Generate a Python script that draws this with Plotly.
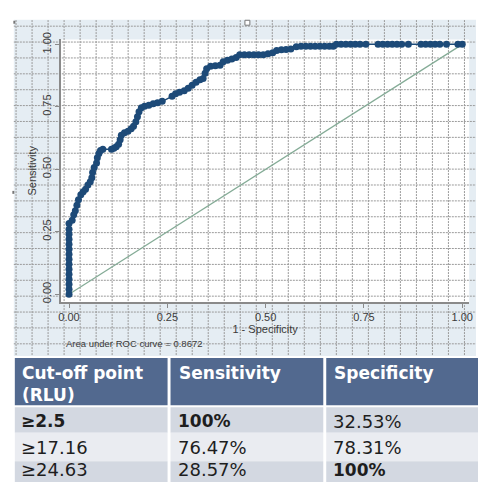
import plotly.graph_objects as go

# ---------------- data ----------------
one_minus_specificity = [
    0, 0, 0, 0, 0, 0, 0, 0, 0, 0, 0, 0, 0, 0, 0,
    0.008, 0.012, 0.016, 0.020, 0.024, 0.030, 0.036, 0.042, 0.048, 0.054,
    0.058, 0.060, 0.064, 0.070, 0.072, 0.076, 0.080, 0.086, 0.108, 0.114,
    0.120, 0.126, 0.130, 0.133, 0.141, 0.150, 0.158, 0.164, 0.170, 0.174,
    0.178, 0.184, 0.192, 0.203, 0.214, 0.225, 0.237, 0.262, 0.271, 0.281,
    0.293, 0.303, 0.313, 0.323, 0.333, 0.341, 0.346, 0.350, 0.360, 0.372,
    0.384, 0.392, 0.403, 0.414, 0.425, 0.434, 0.446, 0.458, 0.470, 0.482,
    0.494, 0.506, 0.518, 0.528, 0.540, 0.552, 0.564, 0.578, 0.590, 0.602,
    0.614, 0.626, 0.638, 0.650, 0.662, 0.672, 0.680, 0.692, 0.704, 0.716,
    0.728, 0.740, 0.755, 0.786, 0.798, 0.810, 0.822, 0.834, 0.846, 0.863,
    0.895, 0.907, 0.919, 0.931, 0.943, 0.960, 0.989, 1.0,
]
sensitivity = [
    0.0, 0.02, 0.04, 0.06, 0.08, 0.10, 0.12, 0.14, 0.16, 0.18, 0.20, 0.22, 0.24, 0.26, 0.283,
    0.296, 0.318, 0.334, 0.356, 0.378, 0.398, 0.410, 0.420, 0.437, 0.450,
    0.466, 0.487, 0.507, 0.525, 0.546, 0.563, 0.575, 0.580, 0.580, 0.584,
    0.590, 0.600, 0.618, 0.636, 0.646, 0.652, 0.662, 0.672, 0.690, 0.710,
    0.730, 0.746, 0.752, 0.756, 0.762, 0.766, 0.772, 0.792, 0.802, 0.808,
    0.814, 0.824, 0.836, 0.848, 0.858, 0.863, 0.884, 0.902, 0.912, 0.914,
    0.916, 0.930, 0.936, 0.941, 0.947, 0.958, 0.958, 0.958, 0.958, 0.958,
    0.958, 0.962, 0.966, 0.975, 0.978, 0.979, 0.981, 0.990, 0.992, 0.992,
    0.992, 0.992, 0.992, 0.992, 0.992, 0.992, 1.0, 1.0, 1.0, 1.0,
    1.0, 1.0, 1.0, 1.0, 1.0, 1.0, 1.0, 1.0, 1.0, 1.0,
    1.0, 1.0, 1.0, 1.0, 1.0, 1.0, 1.0, 1.0,
]
reference_x = [0, 1]
reference_y = [0, 1]

tick_values = [0, 0.25, 0.5, 0.75, 1.0]
tick_labels = ["0.00", "0.25", "0.50", "0.75", "1.00"]
x_title = "1 - Specificity"
y_title = "Sensitivity"
auc_note = "Area under ROC curve = 0.8672"

header_labels = ["Cut-off point", "Sensitivity", "Specificity"]
header_sub = "(RLU)"
cutoffs = ["≥2.5", "≥17.16", "≥24.63"]
sens_values = ["100%", "76.47%", "28.57%"]
spec_values = ["32.53%", "78.31%", "100%"]
bold_cells = {(0, 0), (0, 1), (2, 2)}

# ---------------- layout helpers ----------------
W = H = 482


def px(x):
    return x / W


def py(y):
    return 1 - y / H


CURVE = "#1d4a78"
DIAG = "#84ab96"
AXIS = "#8a8a8a"
TXT = "#3a3a3a"
SLIDE_BG = "#e5edf3"
GRIDC = "#9a9a9a"
HEAD = "#52698f"
ROW_A = "#d3d8e1"
ROW_B = "#eaecf1"

fig = go.Figure()

fig.add_trace(go.Scatter(
    x=reference_x, y=reference_y, mode="lines",
    line=dict(color=DIAG, width=1.2), hoverinfo="skip", showlegend=False,
))
fig.add_trace(go.Scatter(
    x=one_minus_specificity, y=sensitivity, mode="lines+markers",
    line=dict(color=CURVE, width=1.5),
    marker=dict(color=CURVE, size=7, line=dict(width=0)),
    showlegend=False,
))

shapes = []
# slide / graph region background
shapes.append(dict(type="rect", xref="paper", yref="paper", layer="below",
                   x0=px(11), x1=px(480), y0=py(357), y1=py(13),
                   fillcolor=SLIDE_BG, line=dict(width=0)))
# plot region (white)
shapes.append(dict(type="rect", xref="paper", yref="paper", layer="below",
                   x0=px(59), x1=px(473), y0=py(300), y1=py(33),
                   fillcolor="white", line=dict(width=0)))
# slide grid lines
for k in range(29):
    gx = 13.25 + 16.25 * k
    shapes.append(dict(type="line", xref="paper", yref="paper", layer="below",
                       x0=px(gx), x1=px(gx), y0=py(357), y1=py(13),
                       line=dict(color=GRIDC, width=1, dash="2px,1px")))
for k in range(21):
    gy = 19.5 + 16.15 * k
    shapes.append(dict(type="line", xref="paper", yref="paper", layer="below",
                       x0=px(11), x1=px(480), y0=py(gy), y1=py(gy),
                       line=dict(color=GRIDC, width=1, dash="2px,1px")))
# selection handles of the slide object
shapes.append(dict(type="rect", xref="paper", yref="paper", layer="above",
                   x0=px(245.5), x1=px(250.5), y0=py(18.5), y1=py(13.5),
                   fillcolor="white", line=dict(color="#777777", width=1)))
shapes.append(dict(type="rect", xref="paper", yref="paper", layer="above",
                   x0=px(10.5), x1=px(12.5), y0=py(17), y1=py(14),
                   fillcolor="#777777", line=dict(width=0)))
shapes.append(dict(type="rect", xref="paper", yref="paper", layer="above",
                   x0=px(9.5), x1=px(11.5), y0=py(190), y1=py(187),
                   fillcolor="#777777", line=dict(width=0)))

# table
col_x = [(12, 167), (170, 325), (328, 482)]
row_y = [(407, 433), (433, 462), (462, 490)]
shapes.append(dict(type="rect", xref="paper", yref="paper", layer="above",
                   x0=px(0), x1=px(482), y0=py(490), y1=py(355),
                   fillcolor="white", line=dict(width=0)))
for (x0, x1) in col_x:
    shapes.append(dict(type="rect", xref="paper", yref="paper", layer="above",
                       x0=px(x0), x1=px(x1), y0=py(405), y1=py(357),
                       fillcolor=HEAD, line=dict(width=0)))
    for r, (y0, y1) in enumerate(row_y):
        shapes.append(dict(type="rect", xref="paper", yref="paper", layer="above",
                           x0=px(x0), x1=px(x1), y0=py(y1), y1=py(y0),
                           fillcolor=ROW_A if r % 2 == 0 else ROW_B,
                           line=dict(width=0)))

annotations = []
annotations.append(dict(xref="paper", yref="paper", x=px(62), y=py(342),
                        xanchor="left", yanchor="middle", showarrow=False,
                        text=auc_note,
                        font=dict(family="Liberation Sans, Arial", size=9.5, color=TXT)))

text_x = [17, 177, 334]
for c, label in enumerate(header_labels):
    annotations.append(dict(xref="paper", yref="paper", x=px(text_x[c]), y=py(372),
                            xanchor="left", yanchor="middle", showarrow=False,
                            text="<b>" + label + "</b>",
                            font=dict(family="DejaVu Sans", size=17, color="white")))
annotations.append(dict(xref="paper", yref="paper", x=px(text_x[0]), y=py(395),
                        xanchor="left", yanchor="middle", showarrow=False,
                        text="<b>" + header_sub + "</b>",
                        font=dict(family="DejaVu Sans", size=17, color="white")))
row_centers = [421, 448, None]
for r in range(3):
    for c, vals in enumerate([cutoffs, sens_values, spec_values]):
        bold = (r, c) in bold_cells
        if row_centers[r] is None:
            ypos, yanc = py(482), "bottom"
        else:
            ypos, yanc = py(row_centers[r]), "middle"
        annotations.append(dict(
            xref="paper", yref="paper", x=px(text_x[c]), y=ypos,
            xanchor="left", yanchor=yanc, showarrow=False, borderpad=0,
            text=("<b>" + vals[r] + "</b>") if bold else vals[r],
            font=dict(family="DejaVu Sans", size=17 if bold else 18, color="#1e1e1e")))

axis_font = dict(family="Liberation Sans, Arial", size=11, color=TXT)

fig.update_layout(
    width=W, height=H,
    margin=dict(l=0, r=0, t=0, b=0),
    paper_bgcolor="white",
    plot_bgcolor="rgba(0,0,0,0)",
    showlegend=False,
    shapes=shapes,
    annotations=annotations,
    xaxis=dict(
        domain=[px(59), px(473)],
        range=[-0.02005, 1.01754],
        tickmode="array", tickvals=tick_values, ticktext=tick_labels,
        showgrid=False, zeroline=False,
        showline=True, linecolor=AXIS, linewidth=1.5,
        ticks="outside", ticklen=4, tickcolor=AXIS, tickwidth=1,
        tickfont=axis_font,
        title=dict(text=x_title, font=axis_font, standoff=1),
    ),
    yaxis=dict(
        domain=[py(300), py(33)],
        range=[-0.0315, 1.01968],
        tickmode="array", tickvals=tick_values, ticktext=tick_labels,
        tickangle=-90,
        showgrid=False, zeroline=False,
        showline=True, linecolor=AXIS, linewidth=1.5,
        ticks="outside", ticklen=4, tickcolor=AXIS, tickwidth=1,
        tickfont=axis_font,
        title=dict(text=y_title, font=axis_font, standoff=2),
    ),
)

fig.write_html("out.html")
